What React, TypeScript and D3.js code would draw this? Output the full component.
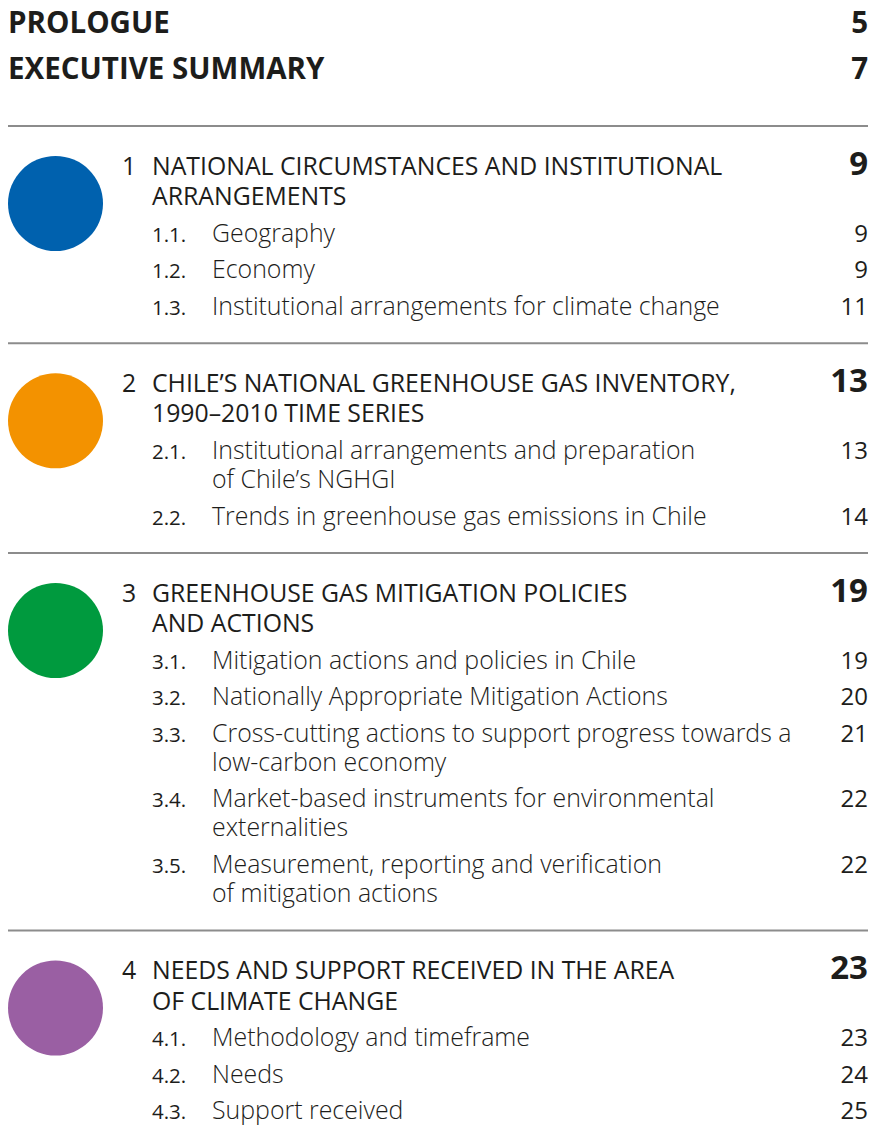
import React from "react";
import * as d3 from "d3";

// front matter rows
const frontTitles = ["PROLOGUE", "EXECUTIVE SUMMARY"];
const frontPages = ["5", "7"];

// chapters
const chapterNumbers = ["1", "2", "3", "4"];
const chapterTitles = [
  ["NATIONAL CIRCUMSTANCES AND INSTITUTIONAL", "ARRANGEMENTS"],
  ["CHILE’S NATIONAL GREENHOUSE GAS INVENTORY,", "1990–2010 TIME SERIES"],
  ["GREENHOUSE GAS MITIGATION POLICIES", "AND ACTIONS"],
  ["NEEDS AND SUPPORT RECEIVED IN THE AREA", "OF CLIMATE CHANGE"],
];
const chapterPages = ["9", "13", "19", "23"];

// sections per chapter
const sectionNumbers = [
  ["1.1.", "1.2.", "1.3."],
  ["2.1.", "2.2."],
  ["3.1.", "3.2.", "3.3.", "3.4.", "3.5."],
  ["4.1.", "4.2.", "4.3."],
];
const sectionTitles = [
  [["Geography"], ["Economy"], ["Institutional arrangements for climate change"]],
  [
    ["Institutional arrangements and preparation", "of Chile’s NGHGI"],
    ["Trends in greenhouse gas emissions in Chile"],
  ],
  [
    ["Mitigation actions and policies in Chile"],
    ["Nationally Appropriate Mitigation Actions"],
    ["Cross-cutting actions to support progress towards a", "low-carbon economy"],
    ["Market-based instruments for environmental", "externalities"],
    ["Measurement, reporting and verification", "of mitigation actions"],
  ],
  [["Methodology and timeframe"], ["Needs"], ["Support received"]],
];
const sectionPages = [
  ["9", "9", "11"],
  ["13", "14"],
  ["19", "20", "21", "22", "22"],
  ["23", "24", "25"],
];

const chapterColors = ["#0061ae", "#f39200", "#009a3e", "#9a5fa3"];

const W = 881;
const H = 1126;
const FONT = "'Open Sans', 'Noto Sans', sans-serif";
const INK = "#1d1d1b";

export default function App() {
  const x = d3.scaleLinear().domain([0, 1]).range([8, 868]);
  const colour = d3.scaleOrdinal<string, string>().domain(chapterNumbers).range(chapterColors);
  const frontY = d3.scalePoint<string>().domain(frontTitles).range([33, 79]);

  // vertical layout: run a cursor down the page
  type Row = { y: number; lines: number[] };
  const chapters: { rule: number; title: number[]; sections: Row[] }[] = [];
  let cursor = 126;
  chapterNumbers.forEach((_, ci) => {
    const rule = cursor;
    const t0 = rule + 48.5;
    const title = chapterTitles[ci].map((_, li) => t0 + li * 30.5);
    let y = title[title.length - 1];
    const sections: Row[] = sectionTitles[ci].map((lines) => {
      y += 36.6;
      const ys = lines.map((_, li) => y + li * 29);
      y = ys[ys.length - 1];
      return { y: ys[0], lines: ys };
    });
    chapters.push({ rule, title, sections });
    cursor = y + 28.5;
  });

  return (
    <svg
      width={W}
      height={H}
      style={{ position: "absolute", left: 0, top: 0, background: "#fff" }}
      fontFamily={FONT}
    >
      <rect width={W} height={H} fill="#fff" />
      {frontTitles.map((t, i) => (
        <g key={t} fill={INK} fontWeight={700} fontSize={29.5}>
          <text x={x(0)} y={frontY(t)}>{t}</text>
          <text x={x(1)} y={frontY(t)} textAnchor="end">{frontPages[i]}</text>
        </g>
      ))}
      {chapters.map((c, ci) => (
        <g key={ci}>
          <line x1={x(0)} x2={x(1)} y1={c.rule} y2={c.rule} stroke="#8c8c8c" strokeWidth={2} />
          <circle cx={55.5} cy={c.title[0] + 29} r={47.5} fill={colour(chapterNumbers[ci])} />
          <text x={122} y={c.title[0]} fontSize={24.8} fill={INK}>{chapterNumbers[ci]}</text>
          {chapterTitles[ci].map((t, li) => (
            <text key={li} x={152} y={c.title[li]} fontSize={24.8} fill={INK}>{t}</text>
          ))}
          <text x={x(1)} y={c.title[0]} fontSize={33} fontWeight={700} fill={INK} textAnchor="end">
            {chapterPages[ci]}
          </text>
          {c.sections.map((s, si) => (
            <g key={si} fill={INK}>
              <text x={152} y={s.y} fontSize={20.5} fontWeight={500}>{sectionNumbers[ci][si]}</text>
              {sectionTitles[ci][si].map((t, li) => (
                <text key={li} x={212} y={s.lines[li]} fontSize={24.9} fontWeight={300}>{t}</text>
              ))}
              <text x={x(1)} y={s.y} fontSize={24} textAnchor="end">{sectionPages[ci][si]}</text>
            </g>
          ))}
        </g>
      ))}
    </svg>
  );
}
